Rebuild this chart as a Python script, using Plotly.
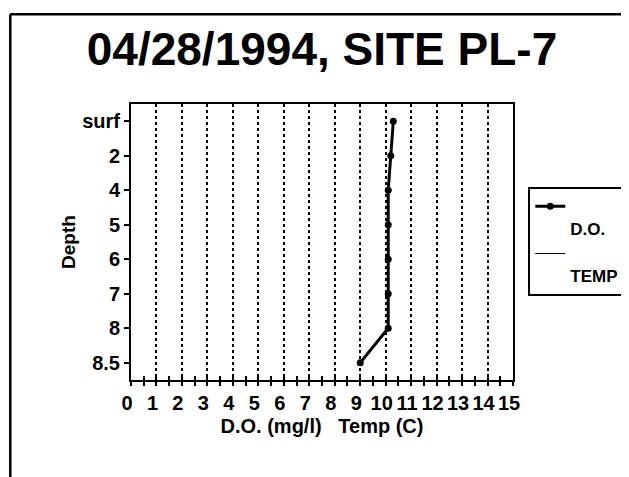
import plotly.graph_objects as go

# --- data ---
depth_labels = ['surf', '2', '4', '5', '6', '7', '8', '8.5']
do_values = [10.3, 10.2, 10.1, 10.1, 10.1, 10.1, 10.1, 9.0]
temp_values = [None] * len(depth_labels)  # no temperature readings on this sheet
x_ticks = list(range(0, 16))

FONT = 'Liberation Sans, Arial, sans-serif'

# the page body adds an 8px margin, so the figure is a bit smaller than the window
W, H = 621, 469


def build_figure():
    fig = go.Figure()

    fig.add_trace(go.Scatter(
        x=do_values, y=depth_labels, name='&nbsp;<br>D.O.',
        mode='lines+markers',
        line=dict(color='black', width=3),
        marker=dict(color='black', size=7),
    ))
    fig.add_trace(go.Scatter(
        x=temp_values, y=depth_labels, name='&nbsp;<br>TEMP',
        mode='lines', line=dict(color='black', width=1),
    ))

    # second x axis only for the inner half of the cross tick marks
    fig.add_trace(go.Scatter(x=[None], y=[None], xaxis='x2', showlegend=False,
                             hoverinfo='skip'))

    fig.update_layout(
        width=W, height=H,
        margin=dict(l=123, r=116, t=96, b=97, autoexpand=False),
        paper_bgcolor='white', plot_bgcolor='white',
        font=dict(family=FONT, color='black', size=16, weight='bold'),
        title=dict(
            text='04/28/1994, SITE PL-7',
            font=dict(family=FONT, size=46, weight='bold'),
            x=0.5, xref='paper', xanchor='center',
            y=0.912, yref='container', yanchor='middle',
        ),
        xaxis=dict(
            range=[0, 15], tickvals=x_ticks, ticktext=[str(v) for v in x_ticks],
            showgrid=True, gridcolor='black', griddash='dot', gridwidth=1.5,
            showline=True, linecolor='black', linewidth=2, mirror=True,
            ticks='outside', ticklen=4, tickwidth=1.5, tickcolor='black',
            minor=dict(dtick=0.5, ticks='outside', ticklen=4, tickwidth=1.5,
                       tickcolor='black', showgrid=False),
            ticklabelshift=-4,
            tickfont=dict(size=20, weight='bold'),
            title=dict(text='D.O. (mg/l)   Temp (C)', standoff=6,
                       font=dict(size=20, weight='bold')),
            zeroline=False,
        ),
        xaxis2=dict(
            overlaying='x', anchor='y', range=[0, 15], dtick=0.5,
            ticks='inside', ticklen=4, tickwidth=1.5, tickcolor='black',
            showticklabels=False, showgrid=False, zeroline=False,
            showline=False, side='bottom',
        ),
        yaxis=dict(
            type='category', categoryorder='array', categoryarray=depth_labels,
            range=[7.5, -0.5],
            showgrid=False, zeroline=False,
            showline=True, linecolor='black', linewidth=2, mirror=True,
            ticks='outside', ticklen=5, tickwidth=1.5, tickcolor='black',
            tickfont=dict(size=20, weight='bold'),
            title=dict(text='Depth', standoff=2,
                       font=dict(size=19, weight='bold')),
        ),
        legend=dict(
            x=1.04, y=0.70, xanchor='left', yanchor='top',
            bordercolor='black', borderwidth=2, bgcolor='white',
            font=dict(size=17, weight='bold'),
            valign='top', itemwidth=30, tracegroupgap=0,
        ),
        showlegend=True,
    )

    # outer frame of the sheet: left and top edges, the rest runs off the page
    fig.add_shape(type='line', xref='paper', yref='paper',
                  x0=-0.316, x1=-0.316, y0=-0.6, y1=1.325,
                  line=dict(color='black', width=2.5))
    fig.add_shape(type='line', xref='paper', yref='paper',
                  x0=-0.316, x1=1.4, y0=1.325, y1=1.325,
                  line=dict(color='black', width=2.5))
    return fig


def main():
    fig = build_figure()
    fig.write_html('out.html')


if __name__ == '__main__':
    main()
